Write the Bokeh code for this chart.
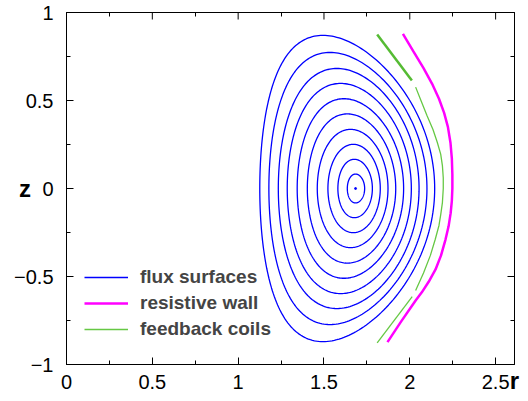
import numpy as np
from bokeh.plotting import figure
from bokeh.models import (Range1d, LinearAxis, FixedTicker, Legend, LegendItem)
from bokeh.embed import file_html
from bokeh.resources import INLINE

# ---- data ----
# flux surfaces: inner / outer radius on the midplane, height of the top and radius at the top
flux_r_inner = [1.126, 1.179, 1.234, 1.286, 1.344, 1.403, 1.461, 1.523, 1.581, 1.636]
flux_r_outer = [2.145, 2.100, 2.054, 2.009, 1.964, 1.918, 1.873, 1.828, 1.782, 1.737]
flux_z_top = [0.870, 0.773, 0.682, 0.597, 0.510, 0.424, 0.336, 0.251, 0.166, 0.082]
flux_r_top = [1.494, 1.535, 1.575, 1.597, 1.616, 1.636, 1.655, 1.671, 1.677, 1.684]
axis_r = [1.684]
axis_z = [0.0]

wall_r = [1.960, 2.020, 2.080, 2.130, 2.170, 2.200, 2.222, 2.237, 2.245, 2.248, 2.248,
          2.245, 2.238, 2.226, 2.208, 2.182, 2.150, 2.110, 2.070, 2.034, 1.950, 1.870]
wall_z = [0.879, 0.780, 0.684, 0.595, 0.510, 0.430, 0.350, 0.260, 0.170, 0.080, 0.000,
          -0.070, -0.140, -0.215, -0.290, -0.380, -0.460, -0.530, -0.590, -0.636, -0.755, -0.873]

coil_top_r = [1.810, 2.012]
coil_top_z = [0.875, 0.614]
coil_mid_r = [2.034, 2.065, 2.100, 2.135, 2.160, 2.180, 2.190, 2.195, 2.195, 2.190, 2.180,
              2.170, 2.148, 2.120, 2.080, 2.034]
coil_mid_z = [0.576, 0.500, 0.415, 0.335, 0.263, 0.195, 0.130, 0.060, 0.000, -0.080, -0.150,
              -0.210, -0.290, -0.380, -0.480, -0.580]
coil_bot_r = [2.014, 1.810]
coil_bot_z = [-0.614, -0.877]

x_ticks = [0, 0.5, 1, 1.5, 2, 2.5]
x_minor = [0.25, 0.75, 1.25, 1.75, 2.25]
y_ticks = [-1, -0.5, 0, 0.5, 1]
y_minor = [-0.75, -0.25, 0.25, 0.75]
y_labels = {-1: "\u22121", -0.5: "\u22120.5", 0: "0", 0.5: "0.5", 1: "1"}
x_labels = {0: "0", 0.5: "0.5", 1: "1", 1.5: "1.5", 2: "2", 2.5: "2.5"}
X_MAX = 2.61
Y_MIN, Y_MAX = -1, 1

# ---- flux surface curves (D-shaped) built from the read extents ----
theta = np.linspace(0, 2 * np.pi, 241)
xs, ys = [], []
for ri, ro, zt, rt in zip(flux_r_inner, flux_r_outer, flux_z_top, flux_r_top):
    r0 = 0.5 * (ri + ro)
    a = 0.5 * (ro - ri)
    kap = zt / a
    dl = np.arcsin(np.clip((r0 - rt) / a, -0.95, 0.95))
    xs.append(list(r0 + a * np.cos(theta + dl * np.sin(theta))))
    ys.append(list(kap * a * np.sin(theta)))

FONT = "Liberation Sans"

p = figure(width=528, height=401, x_range=Range1d(0, X_MAX), y_range=Range1d(Y_MIN, Y_MAX),
           output_backend="svg", toolbar_location=None,
           min_border_left=66, min_border_right=14, min_border_top=12, min_border_bottom=37)
p.xgrid.visible = False
p.ygrid.visible = False
p.outline_line_color = "black"
p.outline_line_width = 1
p.background_fill_color = "white"
p.border_fill_color = "white"

def style(ax, ticks, minor):
    ax.ticker = FixedTicker(ticks=ticks, minor_ticks=minor)
    ax.major_tick_in = 7
    ax.major_tick_out = 0
    ax.minor_tick_in = 4
    ax.minor_tick_out = 0
    ax.axis_line_color = "black"
    ax.major_tick_line_color = "black"
    ax.minor_tick_line_color = "black"
    ax.major_label_text_font = FONT
    ax.major_label_text_font_size = "20px"
    ax.major_label_text_color = "black"

xa = p.xaxis[0]
style(xa, x_ticks, x_minor)
xa.major_label_overrides = x_labels
xa.major_label_standoff = 10
xa.axis_label = "r"
xa.axis_label_align = "end"
xa.axis_label_standoff = -25
xa.axis_label_text_font = FONT
xa.axis_label_text_font_size = "24px"
xa.axis_label_text_font_style = "bold"
xa.axis_label_text_color = "black"

ya = p.yaxis[0]
style(ya, y_ticks, y_minor)
ya.major_label_overrides = y_labels
ya.major_label_standoff = 13
ya.axis_label = "z"
ya.axis_label_orientation = "horizontal"
ya.axis_label_standoff = -20
ya.axis_label_text_font = FONT
ya.axis_label_text_font_size = "24px"
ya.axis_label_text_font_style = "bold"
ya.axis_label_text_color = "black"

# top and right frame ticks (no labels): minor ticks from the axes, major ticks as dashes
top_ax = LinearAxis(ticker=FixedTicker(ticks=[], minor_ticks=x_minor),
                    minor_tick_in=4, minor_tick_out=0, axis_line_color="black",
                    minor_tick_line_color="black")
p.add_layout(top_ax, "above")
right_ax = LinearAxis(ticker=FixedTicker(ticks=[], minor_ticks=y_minor),
                      minor_tick_in=4, minor_tick_out=0, axis_line_color="black",
                      minor_tick_line_color="black")
p.add_layout(right_ax, "right")
p.scatter(x_ticks, [Y_MAX] * len(x_ticks), marker="dash", size=14, angle=np.pi / 2,
          line_color="black", line_width=1)
p.scatter([X_MAX] * len(y_ticks), y_ticks, marker="dash", size=14,
          line_color="black", line_width=1)

flux = p.multi_line(xs, ys, line_color="#0000ff", line_width=1.3)
p.scatter(axis_r, axis_z, size=2, color="#0000ff")
wall = p.line(wall_r, wall_z, line_color="#ff00ff", line_width=2.5)
p.line(coil_top_r, coil_top_z, line_color="#55bb33", line_width=2.5)
coil = p.line(coil_mid_r, coil_mid_z, line_color="#66c844", line_width=1.3)
p.line(coil_bot_r, coil_bot_z, line_color="#66c844", line_width=1.3)

legend = Legend(items=[LegendItem(label="flux surfaces", renderers=[flux]),
                       LegendItem(label="resistive wall", renderers=[wall]),
                       LegendItem(label="feedback coils", renderers=[coil])],
                location=(18, 24), padding=0, margin=0, spacing=4,
                glyph_width=44, glyph_height=20, label_standoff=12,
                label_text_font=FONT, label_text_font_size="19px",
                label_text_font_style="bold", label_height=20,
                border_line_color=None, background_fill_alpha=0)
p.add_layout(legend, "center")

open("out.html", "w").write(file_html(p, INLINE))
